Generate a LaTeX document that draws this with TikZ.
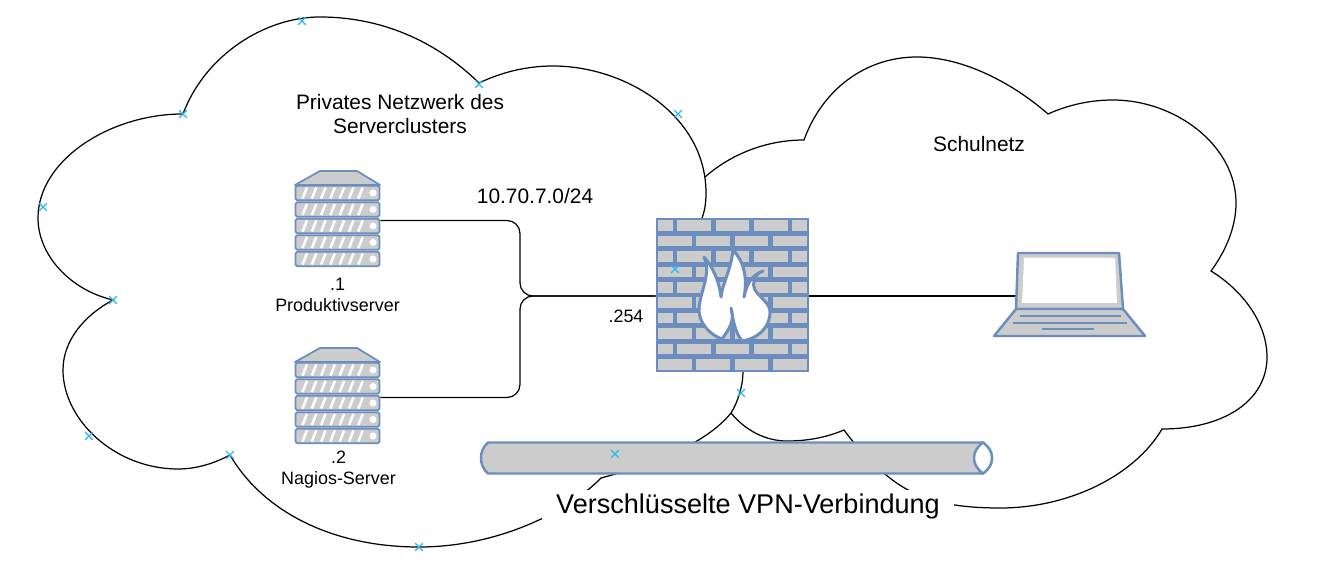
\documentclass[tikz,border=0pt]{standalone}
\usepackage{fontspec}
\setmainfont{Liberation Sans}
\usepackage{xcolor}
\usetikzlibrary{positioning, shapes.misc}
\definecolor{iconblue}{HTML}{6C8EBF}
\definecolor{icongray}{HTML}{CCCCCC}
\definecolor{waycyan}{HTML}{29B6F2}

\begin{document}
\begin{tikzpicture}[
  x=0.02cm, y=-0.02cm,
  every node/.style={inner sep=0pt, align=center},
  cloudline/.style={line width=0.7pt, black, line join=miter},
  wire/.style={line width=0.7pt, black, rounded corners=7.4pt},
  iconbox/.style={rectangle, minimum width=#1},
  brick/.style={draw=iconblue, fill=icongray, line width=1.3pt},
  iconline/.style={draw=iconblue, line width=1.4pt, line join=round},
  keyline/.style={draw=iconblue, line width=1.3pt},
  waypt/.style={cross out, draw=waycyan, line width=0.75pt, minimum size=3.6pt},
  lbl/.style={font=\fontsize{10.2}{11.9}\selectfont},
  txt/.style={font=\fontsize{11.9}{13.6}\selectfont},
  serverIcon/.pic={
    \draw[iconline, fill=icongray, line width=1pt] (-42.5,-35.5) -- (-17.5,-49.5) -- (19.5,-49.5) -- (42.5,-35.5) -- cycle;
    \foreach \ry in {-27.5,-11,5.5,22,38.5} {
      \draw[iconline, fill=icongray, line width=1pt, rounded corners=1pt] (-42,\ry-7.3) rectangle (42,\ry+7.3);
      \foreach \sx in {-35,-25.7,-16.4,-7.1,2.2,11.5,20.8}
        \draw[white, line width=1.4pt] (\sx,\ry+5.6) -- (\sx+4.5,\ry-5.6);
      \fill[white] (35.5,\ry) circle[radius=2pt];
    }
  }
]
\useasboundingbox (0,0) rectangle (1317,570);

% clouds
\draw[cloudline] (183,114) .. controls (205,55) and (265,17) .. (320,17)
  .. controls (380,17) and (435,40) .. (479,83)
  .. controls (500,73) and (525,66) .. (553,66)
  .. controls (625,66) and (706,115) .. (706,193)
  .. controls (706,202) and (705,210) .. (702,218)
  .. controls (697,240) and (687,255) .. (675,269)
  .. controls (700,285) and (743,325) .. (743,372)
  .. controls (743,385) and (738,402) .. (731,413)
  .. controls (705,445) and (650,465) .. (601,478)
  .. controls (570,510) and (500,547) .. (419,547)
  .. controls (330,547) and (262,510) .. (230,455)
  .. controls (215,463) and (197,469) .. (178,469)
  .. controls (115,469) and (63,420) .. (63,370)
  .. controls (63,340) and (85,315) .. (113,300)
  .. controls (70,290) and (38,255) .. (38,218)
  .. controls (38,160) and (110,114) .. (183,114) -- cycle;
\draw[cloudline] (705,177) .. controls (730,155) and (765,140) .. (804,140)
  .. controls (822,90) and (865,57) .. (917,57)
  .. controls (965,57) and (1015,85) .. (1048,114)
  .. controls (1068,105) and (1090,100) .. (1113,100)
  .. controls (1175,100) and (1236,145) .. (1236,203)
  .. controls (1236,228) and (1225,252) .. (1211,271)
  .. controls (1245,292) and (1267,325) .. (1267,357)
  .. controls (1267,400) and (1225,429) .. (1162,429)
  .. controls (1135,475) and (1070,508) .. (1000,508)
  .. controls (950,508) and (915,500) .. (885,474)
  .. controls (870,462) and (855,445) .. (844,430)
  .. controls (825,438) and (806,441) .. (787,441)
  .. controls (765,441) and (745,430) .. (731,413);

\node[iconbox=1.7cm, minimum height=1.98cm] (srvProd) at (337.5,220.5) {};
\node[iconbox=1.7cm, minimum height=1.98cm] (srvNagios) at (337.5,397.5) {};
\node[iconbox=3.06cm, minimum height=3.08cm] (firewall) at (732.5,296) {};
\node[iconbox=2.1cm, minimum height=1.7cm] (laptop) at (1069.5,296) {};
\coordinate (bus) at (520,296);

\draw[wire] (srvProd.east) -| (bus) -- (firewall.west);
\draw[wire] (srvNagios.east) -| (bus) -- (firewall.west);
\draw[wire] (firewall.east) -- (laptop.west);

\pic at (srvProd.center) {serverIcon};
\pic at (srvNagios.center) {serverIcon};

% firewall bricks
\foreach \ry in {218,248.8,279.6,310.4,341.2}
  \foreach \xa/\xb in {655.7/675,675/713.3,713.3/751.7,751.7/790,790/809}
    \draw[brick] (\xa+1.3,\ry+1.2) rectangle (\xb-1.3,\ry+14.2);
\foreach \ry in {233.4,264.2,295,325.8,356.6}
  \foreach \xa/\xb in {655.7/694,694/732.3,732.3/770.7,770.7/809}
    \draw[brick] (\xa+1.3,\ry+1.2) rectangle (\xb-1.3,\ry+14.2);
\draw[iconline, fill=white, line width=1.7pt] (704,257) .. controls (712,266) and (719,280) .. (721,297)
  .. controls (722,285) and (731,270) .. (733,250)
  .. controls (743,260) and (748,277) .. (744,297)
  .. controls (747,283) and (752,275) .. (763,271)
  .. controls (753,275) and (752,283) .. (755,290)
  .. controls (760,298) and (770,303) .. (770,312)
  .. controls (770,328) and (757,339) .. (742,341)
  .. controls (735,332) and (733,320) .. (731,308)
  .. controls (735,320) and (730,328) .. (722,339)
  .. controls (710,335) and (699,323) .. (699,310)
  .. controls (699,293) and (712,275) .. (704,257) -- cycle;

% laptop
\draw[iconline, fill=icongray] (1018,253) -- (1119,253) -- (1123,309) -- (1016,309) -- cycle;
\fill[white] (1024,258) -- (1115,258) -- (1117,303) -- (1022,303) -- cycle;
\draw[iconline, fill=icongray] (1016,309) -- (1123,309) -- (1145,336) -- (994,336) -- cycle;
\draw[keyline] (1020,316) -- (1121,316);
\draw[keyline] (1013,323) -- (1127,323);
\draw[keyline] (1042,329) -- (1094,329);

% vpn pipe
\draw[iconline, fill=icongray] (488,442.5) -- (983,442.5) .. controls (989,447) and (992,452) .. (992,458)
  .. controls (992,464) and (989,469) .. (983,473.5) -- (488,473.5)
  .. controls (483,469) and (481,464) .. (481,458) .. controls (481,452) and (483,447) .. (488,442.5) -- cycle;
\draw[iconline, fill=white] (983,442.5) .. controls (977,447) and (974,452) .. (974,458)
  .. controls (974,464) and (977,469) .. (983,473.5)
  .. controls (989,469) and (992,464) .. (992,458)
  .. controls (992,452) and (989,447) .. (983,442.5) -- cycle;

\node[fill=white, minimum width=8.24cm, minimum height=0.7cm, font=\fontsize{15.4}{17}\selectfont] (vpnLabel) at (748,507) {Verschlüsselte VPN-Verbindung};

\node[txt] (privLabel) at (400,114) {Privates Netzwerk des\\Serverclusters};
\node[txt] (subnetLabel) at (535,196) {10.70.7.0/24};
\node[txt] (schoolLabel) at (979,144) {Schulnetz};
\node[lbl] (gwLabel) at (626,316) {.254};
\node[lbl, below=0.15cm of srvProd] (prodLabel) {.1\\Produktivserver};
\node[lbl, below=0.06cm of srvNagios, xshift=0.02cm] (nagiosLabel) {.2\\Nagios-Server};

\foreach \px/\py [count=\i] in {302/21,479/84,678/114,183/114,43/207,113/300,89/436,230/455,419/547,741/393,675/269,615/454}
  \node[waypt] (wp\i) at (\px,\py) {};

\end{tikzpicture}
\end{document}
